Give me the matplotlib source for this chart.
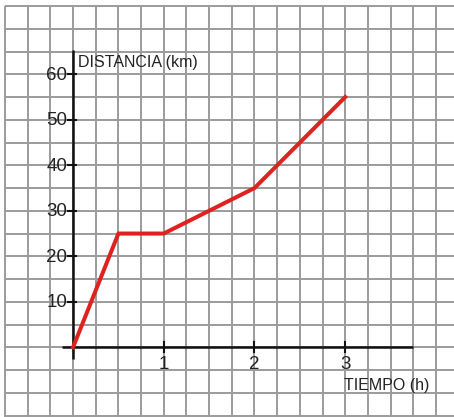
import numpy as np
import matplotlib
matplotlib.use("Agg")
import matplotlib.pyplot as plt

# Data
tiempo_h = [0, 0.5, 1, 2, 3]
distancia_km = [0, 25, 25, 35, 55]
y_ticks = [10, 20, 30, 40, 50, 60]
x_ticks = [1, 2, 3]
y_label = "DISTANCIA (km)"
x_label = "TIEMPO (h)"

plt.rcParams['font.family'] = ['Liberation Sans', 'DejaVu Sans']

fig = plt.figure(figsize=(4.54, 4.17), dpi=100)
ax = fig.add_axes([0, 0, 1, 1])
xlim = (-0.805, 4.199)
ylim = (-15.32, 76.33)
ax.set_xlim(*xlim)
ax.set_ylim(*ylim)
ax.axis('off')

# squared paper grid
grid_color = '#9b9b9b'
for t in np.arange(-0.75, 4.01, 0.25):
    ax.plot([t, t], [75, ylim[0]], color=grid_color, lw=1.4, zorder=1, solid_capstyle='butt')
for d in np.arange(75, -15.1, -5):
    ax.plot([-0.75, xlim[1]], [d, d], color=grid_color, lw=1.4, zorder=1, solid_capstyle='butt')

# axes
ax.plot([0, 0], [-2.5, 65.4], color='#111111', lw=1.8, zorder=3, solid_capstyle='butt')
ax.plot([-0.125, 3.75], [0, 0], color='#111111', lw=1.8, zorder=3, solid_capstyle='butt')

# ticks
for yt in y_ticks:
    ax.plot([-0.055, 0.035], [yt, yt], color='#111111', lw=1.5, zorder=3)
    ax.text(-0.064, yt - 0.2, str(yt), ha='right', va='center', fontsize=13.5, color='#222222', zorder=4)
for xt in x_ticks:
    ax.plot([xt, xt], [-1.1, 1.1], color='#111111', lw=1.5, zorder=3)
    ax.text(xt, -3.7, str(xt), ha='center', va='center', fontsize=13.5, color='#222222', zorder=4)

ax.text(0.052, 62.6, y_label, ha='left', va='center', fontsize=11.5, color='#222222', zorder=4)
ax.text(2.99, -8.4, x_label, ha='left', va='center', fontsize=11.5, color='#222222', zorder=4)

# data line
ax.plot(tiempo_h, distancia_km, color='#dd2220', lw=2.9, zorder=5, solid_joinstyle='miter')

fig.savefig('out.png', dpi=100)
